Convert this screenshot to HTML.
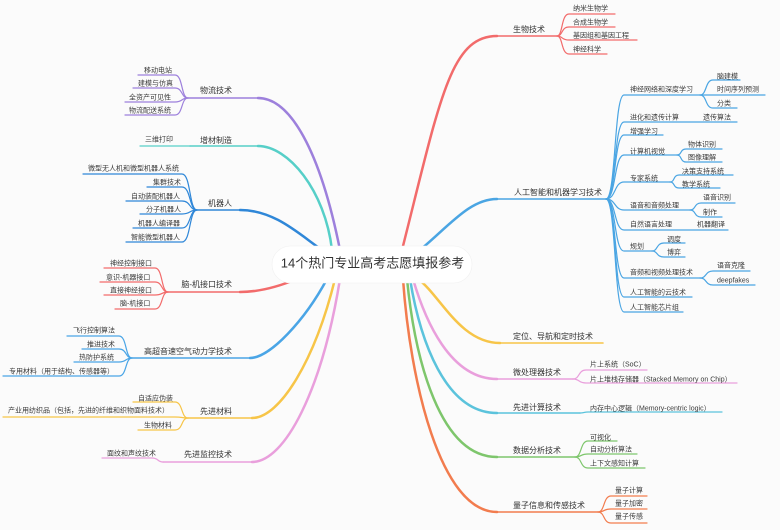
<!DOCTYPE html>
<html><head><meta charset="utf-8"><style>
html,body{margin:0;padding:0;background:#fbfbfb;}
svg{display:block;}
text{font-family:"Liberation Sans","Noto Sans CJK SC",sans-serif;fill:#333;}
.m{font-size:8px;}
.s{font-size:7px;fill:#3a3a3a;}
.c{font-size:13px;fill:#333;}
path{fill:none;stroke-linecap:round;}
.mc{stroke-width:2.5;}
.mh{stroke-width:1.6;}
.sc{stroke-width:1.2;}
</style></head><body>
<svg width="780" height="530" viewBox="0 0 780 530" xmlns="http://www.w3.org/2000/svg">
<rect width="780" height="530" fill="#fbfbfb"/>

<!-- ===== RIGHT SIDE ===== -->
<!-- 生物技术 -->
<g stroke="#f26b6b">
<path class="mc" d="M402 250 C440 100 450 36 497 36"/>
<path class="mh" d="M497 36 H557"/>
<path class="sc" d="M557 36 C563 36 561 14 569 14 H615"/>
<path class="sc" d="M557 36 C563 36 561 27 569 27 H615"/>
<path class="sc" d="M557 36 C563 36 561 40 569 40 H637"/>
<path class="sc" d="M557 36 C563 36 561 54 569 54 H607"/>
</g>
<text class="m" x="513" y="32">生物技术</text>
<text class="s" x="573" y="10.7">纳米生物学</text>
<text class="s" x="573" y="24.7">合成生物学</text>
<text class="s" x="573" y="37.7">基因组和基因工程</text>
<text class="s" x="573" y="51.7">神经科学</text>

<!-- 人工智能 -->
<g stroke="#4aa5e3">
<path class="mc" d="M420 250 C450 225 470 199 497 199"/>
<path class="mh" d="M497 199 H606"/>
<path class="sc" d="M606 199 C616 199 614 95 624 95 H700"/>
<path class="sc" d="M606 199 C616 199 614 122 624 122 H737"/>
<path class="sc" d="M606 199 C616 199 614 135 624 135 H663"/>
<path class="sc" d="M606 199 C616 199 614 155 624 155 H677"/>
<path class="sc" d="M606 199 C616 199 614 182 624 182 H670"/>
<path class="sc" d="M606 199 C616 199 614 210 624 210 H690"/>
<path class="sc" d="M606 199 C616 199 614 230 624 230 H728"/>
<path class="sc" d="M606 199 C616 199 614 251 624 251 H652"/>
<path class="sc" d="M606 199 C616 199 614 278 624 278 H700"/>
<path class="sc" d="M606 199 C616 199 614 297 624 297 H692"/>
<path class="sc" d="M606 199 C616 199 614 312 624 312 H683"/>
<!-- sub groups -->
<path class="sc" d="M700 95 C707 95 705 80 713 80 H740"/>
<path class="sc" d="M700 95 H765"/>
<path class="sc" d="M700 95 C707 95 705 108 713 108 H737"/>
<path class="sc" d="M677 155 C682 155 680 149 686 149 H722"/>
<path class="sc" d="M677 155 C682 155 680 162 686 162 H722"/>
<path class="sc" d="M670 182 C675 182 673 175 679 175 H733"/>
<path class="sc" d="M670 182 C675 182 673 188 679 188 H720"/>
<path class="sc" d="M690 210 C696 210 694 203 701 203 H735"/>
<path class="sc" d="M690 210 C696 210 694 217 701 217 H722"/>
<path class="sc" d="M652 251 C658 251 656 243 664 243 H685"/>
<path class="sc" d="M652 251 C658 251 656 257 664 257 H685"/>
<path class="sc" d="M700 278 C707 278 705 271 713 271 H750"/>
<path class="sc" d="M700 278 C707 278 705 285 713 285 H755"/>
</g>
<text class="m" x="514" y="195">人工智能和机器学习技术</text>
<text class="s" x="630" y="91.7">神经网络和深度学习</text>
<text class="s" x="717" y="78.7">脑建模</text>
<text class="s" x="717" y="91.7">时间序列预测</text>
<text class="s" x="717" y="105.7">分类</text>
<text class="s" x="630" y="119.7">进化和遗传计算</text>
<text class="s" x="703" y="119.7">遗传算法</text>
<text class="s" x="630" y="133.7">增强学习</text>
<text class="s" x="630" y="153.7">计算机视觉</text>
<text class="s" x="688" y="146.7">物体识别</text>
<text class="s" x="688" y="159.7">图像理解</text>
<text class="s" x="630" y="180.7">专家系统</text>
<text class="s" x="682" y="173.7">决策支持系统</text>
<text class="s" x="682" y="186.7">教学系统</text>
<text class="s" x="630" y="207.7">语音和音频处理</text>
<text class="s" x="703" y="199.7">语音识别</text>
<text class="s" x="703" y="214.7">制作</text>
<text class="s" x="630" y="226.7">自然语言处理</text>
<text class="s" x="697" y="226.7">机器翻译</text>
<text class="s" x="630" y="248.7">规划</text>
<text class="s" x="667" y="241.7">调度</text>
<text class="s" x="667" y="254.7">博弈</text>
<text class="s" x="630" y="274.7">音频和视频处理技术</text>
<text class="s" x="717" y="267.7">语音克隆</text>
<text class="s" x="717" y="282.7">deepfakes</text>
<text class="s" x="630" y="294.7">人工智能的云技术</text>
<text class="s" x="630" y="309.7">人工智能芯片组</text>

<!-- 定位 -->
<g stroke="#f7c548">
<path class="mc" d="M418 279 C440 295 460 343 500 343"/>
<path class="mh" d="M500 343 H603"/>
</g>
<text class="m" x="513" y="339">定位、导航和定时技术</text>

<!-- 微处理器 -->
<g stroke="#e99fdc">
<path class="mc" d="M413 279 C425 320 450 379 497 379"/>
<path class="mh" d="M497 379 H573"/>
<path class="sc" d="M573 379 C580 379 578 370 586 370 H647"/>
<path class="sc" d="M573 379 C580 379 578 383 586 383 H737"/>
</g>
<text class="m" x="513" y="375">微处理器技术</text>
<text class="s" x="590" y="366.7">片上系统（SoC）</text>
<text class="s" x="590" y="381.7">片上堆栈存储器（Stacked Memory on Chip）</text>

<!-- 先进计算 -->
<g stroke="#5bc3dc">
<path class="mc" d="M410 279 C420 340 445 413 497 413"/>
<path class="mh" d="M497 413 H580"/>
<path class="sc" d="M580 413 C584 413 584 412 588 412 H722"/>
</g>
<text class="m" x="513" y="410">先进计算技术</text>
<text class="s" x="590" y="410.7">内存中心逻辑（Memory-centric logic）</text>

<!-- 数据分析 -->
<g stroke="#7ec66c">
<path class="mc" d="M407 279 C415 360 440 457 497 457"/>
<path class="mh" d="M497 457 H575"/>
<path class="sc" d="M575 457 C582 457 580 441 588 441 H617"/>
<path class="sc" d="M575 457 C582 457 580 454 588 454 H637"/>
<path class="sc" d="M575 457 C582 457 580 468 588 468 H645"/>
</g>
<text class="m" x="513" y="453">数据分析技术</text>
<text class="s" x="590" y="439.7">可视化</text>
<text class="s" x="590" y="451.7">自动分析算法</text>
<text class="s" x="590" y="465.7">上下文感知计算</text>

<!-- 量子 -->
<g stroke="#f27c4e">
<path class="mc" d="M403 279 C410 380 440 512 497 512"/>
<path class="mh" d="M497 512 H598"/>
<path class="sc" d="M598 512 C605 512 603 496 611 496 H647"/>
<path class="sc" d="M598 512 C605 512 603 509 611 509 H647"/>
<path class="sc" d="M598 512 C605 512 603 523 611 523 H647"/>
</g>
<text class="m" x="513" y="508">量子信息和传感技术</text>
<text class="s" x="615" y="492.7">量子计算</text>
<text class="s" x="615" y="505.7">量子加密</text>
<text class="s" x="615" y="518.7">量子传感</text>

<!-- ===== LEFT SIDE ===== -->
<!-- 物流技术 -->
<g stroke="#9d80dc">
<path class="mc" d="M340 250 C320 150 290 98 258 98"/>
<path class="mh" d="M258 98 H188"/>
<path class="sc" d="M188 98 C181 98 183 75 175 75 H138"/>
<path class="sc" d="M188 98 C181 98 183 88 175 88 H133"/>
<path class="sc" d="M188 98 C181 98 183 102 175 102 H125"/>
<path class="sc" d="M188 98 C181 98 183 115 175 115 H125"/>
</g>
<text class="m" x="232" y="93" text-anchor="end">物流技术</text>
<text class="s" x="144" y="72.7">移动电站</text>
<text class="s" x="138" y="85.7">建模与仿真</text>
<text class="s" x="129" y="99.7">全资产可见性</text>
<text class="s" x="129" y="112.7">物流配送系统</text>

<!-- 增材制造 -->
<g stroke="#56cfc8">
<path class="mc" d="M332 250 C325 190 288 146 258 146"/>
<path class="mh" d="M258 146 H190"/>
<path class="sc" d="M190 146 H140"/>
</g>
<text class="m" x="232" y="143" text-anchor="end">增材制造</text>
<text class="s" x="145" y="141.7">三维打印</text>

<!-- 机器人 -->
<g stroke="#2f87d8">
<path class="mc" d="M322 250 C300 235 275 210 240 210"/>
<path class="mh" d="M240 210 H197"/>
<path class="sc" d="M197 210 C189 210 191 174 182 174 H83"/>
<path class="sc" d="M197 210 C189 210 191 187 182 187 H147"/>
<path class="sc" d="M197 210 C189 210 191 201 182 201 H126"/>
<path class="sc" d="M197 210 C189 210 191 214 182 214 H140"/>
<path class="sc" d="M197 210 C189 210 191 228 182 228 H133"/>
<path class="sc" d="M197 210 C189 210 191 242 182 242 H126"/>
</g>
<text class="m" x="232" y="206" text-anchor="end">机器人</text>
<text class="s" x="88" y="170.7">微型无人机和微型机器人系统</text>
<text class="s" x="153" y="184.7">集群技术</text>
<text class="s" x="131" y="198.7">自动装配机器人</text>
<text class="s" x="146" y="211.7">分子机器人</text>
<text class="s" x="138" y="225.7">机器人编译器</text>
<text class="s" x="131" y="239.7">智能微型机器人</text>

<!-- 脑-机接口技术 -->
<g stroke="#f26b6b">
<path class="mc" d="M297 279 C280 286 260 292 240 292"/>
<path class="mh" d="M240 292 H168"/>
<path class="sc" d="M168 292 C161 292 163 268 155 268 H104"/>
<path class="sc" d="M168 292 C161 292 163 282 155 282 H100"/>
<path class="sc" d="M168 292 C161 292 163 295 155 295 H104"/>
<path class="sc" d="M168 292 C161 292 163 309 155 309 H115"/>
</g>
<text class="m" x="232" y="287" text-anchor="end">脑-机接口技术</text>
<text class="s" x="110" y="265.7">神经控制接口</text>
<text class="s" x="106" y="279.7">意识-机器接口</text>
<text class="s" x="110" y="292.7">直接神经接口</text>
<text class="s" x="120" y="305.7">脑-机接口</text>

<!-- 高超音速 -->
<g stroke="#4aa5e6">
<path class="mc" d="M327 279 C305 320 270 358 250 358"/>
<path class="mh" d="M250 358 H132"/>
<path class="sc" d="M132 358 C125 358 127 336 119 336 H67"/>
<path class="sc" d="M132 358 C125 358 127 349 119 349 H82"/>
<path class="sc" d="M132 358 C125 358 127 362 119 362 H74"/>
<path class="sc" d="M132 358 C125 358 127 376 119 376 H3"/>
</g>
<text class="m" x="232" y="354" text-anchor="end">高超音速空气动力学技术</text>
<text class="s" x="73" y="332.7">飞行控制算法</text>
<text class="s" x="87" y="346.7">推进技术</text>
<text class="s" x="79" y="359.7">热防护系统</text>
<text class="s" x="9" y="373.7">专用材料（用于结构、传感器等）</text>

<!-- 先进材料 -->
<g stroke="#f7c548">
<path class="mc" d="M335 279 C315 360 280 418 252 418"/>
<path class="mh" d="M252 418 H188"/>
<path class="sc" d="M188 418 C181 418 183 402 175 402 H133"/>
<path class="sc" d="M188 418 C181 418 183 417 175 417 H3"/>
<path class="sc" d="M188 418 C181 418 183 430 175 430 H138"/>
</g>
<text class="m" x="232" y="414" text-anchor="end">先进材料</text>
<text class="s" x="138" y="400.7">自适应伪装</text>
<text class="s" x="8" y="412.7">产业用纺织品（包括，先进的纤维和织物面料技术）</text>
<text class="s" x="144" y="427.7">生物材料</text>

<!-- 先进监控技术 -->
<g stroke="#e99fdc">
<path class="mc" d="M340 279 C322 390 285 462 252 462"/>
<path class="mh" d="M252 462 H163"/>
<path class="sc" d="M163 462 C157 462 159 458 152 458 H102"/>
</g>
<text class="m" x="232" y="457" text-anchor="end">先进监控技术</text>
<text class="s" x="107" y="455.7">面纹和声纹技术</text>

<!-- center node -->
<rect x="272" y="246" width="200" height="37" rx="18.5" ry="18.5" fill="#ffffff" stroke="#f0f0f0" stroke-width="0.6"/>
<text class="c" x="372.5" y="267.5" text-anchor="middle">14个热门专业高考志愿填报参考</text>
</svg>
</body></html>
